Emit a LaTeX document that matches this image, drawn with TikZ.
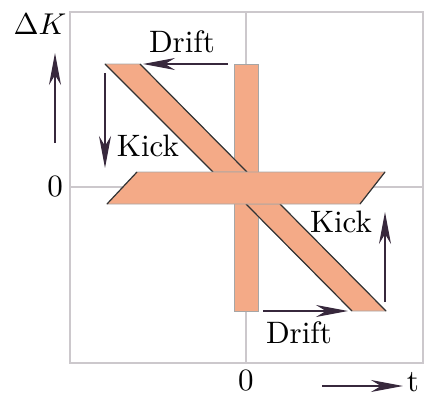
\documentclass[tikz,border=0pt]{standalone}
\usepackage{fontspec}
\usetikzlibrary{arrows.meta}
\definecolor{bandfill}{RGB}{244,170,135}
\definecolor{arrowdark}{RGB}{55,40,60}
\definecolor{gridgray}{RGB}{204,200,204}

\begin{document}
\begin{tikzpicture}[x=0.5pt, y=-0.5pt,
  band/.style={fill=bandfill, draw=black!35, line width=0.3pt},
  edge/.style={black!80, line width=0.6pt},
  arrow/.style={-{Stealth[length=16pt, width=6pt, inset=5pt]}, line width=0.6pt, arrowdark},
  lbl/.style={scale=1.55, inner sep=0pt},
  grid/.style={gridgray, line width=0.6pt}
]
  \useasboundingbox (0,0) rectangle (424,396);

  % frame and zero lines
  \draw[grid] (70,12) rectangle (423,363);
  \draw[grid] (246,12) -- (246,363);
  \draw[grid] (70,187) -- (423,187);

  % phase space bands
  \draw[band] (234,64) rectangle (258,311);
  \draw[band] (105,64) -- (140,64) -- (247,172) -- (213,172) -- cycle;
  \draw[edge] (105,64) -- (213,172) (140,64) -- (247,172);
  \draw[band] (246,204) -- (280,204) -- (386,311) -- (352,311) -- cycle;
  \draw[edge] (246,204) -- (352,311) (280,204) -- (386,311);
  \draw[band] (137,172) -- (385,172) -- (360,204) -- (107,204) -- cycle;
  \draw[edge] (137,172) -- (107,204) (385,172) -- (360,204);

  % labels
  \node[lbl, scale=0.97] (dkLabel) at (40,24) {$\Delta K$};
  \node[lbl] (zeroK) at (55,187) {0};
  \node[lbl] (zeroT) at (246,381) {0};
  \node[lbl] (tLabel) at (413,382) {t};
  \node[lbl] (driftTop) at (182,42) {Drift};
  \node[lbl] (kickLeft) at (148,146) {Kick};
  \node[lbl] (kickRight) at (341,222) {Kick};
  \node[lbl] (driftBot) at (299,333) {Drift};

  % arrow ends
  \coordinate (kAxFrom) at (55,143);
  \coordinate (kAxTo) at (55,53);
  \coordinate (tAxFrom) at (322,386);
  \coordinate (tAxTo) at (403,386);
  \coordinate (dtFrom) at (228,64);
  \coordinate (dtTo) at (143,64);
  \coordinate (klFrom) at (105,73);
  \coordinate (klTo) at (105,168);
  \coordinate (krFrom) at (385,302);
  \coordinate (krTo) at (385,212);
  \coordinate (dbFrom) at (263,311);
  \coordinate (dbTo) at (348,311);

  \draw[arrow] (kAxFrom) -- (kAxTo);
  \draw[arrow] (tAxFrom) -- (tAxTo);
  \draw[arrow] (dtFrom) -- (dtTo);
  \draw[arrow] (klFrom) -- (klTo);
  \draw[arrow] (krFrom) -- (krTo);
  \draw[arrow] (dbFrom) -- (dbTo);

\end{tikzpicture}
\end{document}
